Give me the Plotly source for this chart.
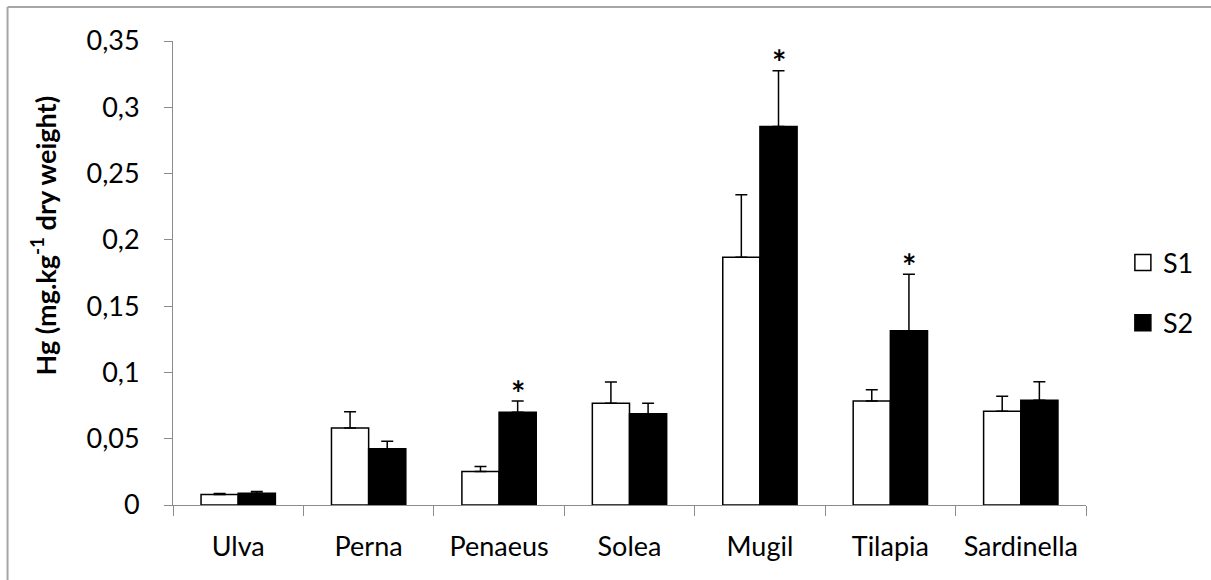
import plotly.graph_objects as go

categories = ["Ulva", "Perna", "Penaeus", "Solea", "Mugil", "Tilapia", "Sardinella"]
s1_values = [0.0080, 0.0580, 0.0252, 0.0767, 0.1868, 0.0784, 0.0707]
s1_err = [0.0006, 0.0123, 0.0038, 0.0160, 0.0472, 0.0086, 0.0113]
s2_values = [0.0088, 0.0425, 0.0699, 0.0689, 0.2855, 0.1314, 0.0790]
s2_err = [0.0014, 0.0055, 0.0085, 0.0078, 0.0420, 0.0426, 0.0140]
significant = ["Penaeus", "Mugil", "Tilapia"]
y_ticks = [0, 0.05, 0.1, 0.15, 0.2, 0.25, 0.3, 0.35]
y_title = "<b>Hg (mg.kg<sup>-1</sup> dry weight)</b>"

FONT = "Lato"

fig = go.Figure()
fig.add_trace(go.Bar(
    name="S1", x=categories, y=s1_values, showlegend=False,
    marker=dict(color="white", line=dict(color="black", width=1.5)),
    error_y=dict(type="data", array=s1_err, symmetric=False,
                 arrayminus=[0] * len(s1_err), color="black", thickness=1.5, width=6),
))
fig.add_trace(go.Bar(
    name="S2", x=categories, y=s2_values, showlegend=False,
    marker=dict(color="black", line=dict(color="black", width=1.5)),
    error_y=dict(type="data", array=s2_err, symmetric=False,
                 arrayminus=[0] * len(s2_err), color="black", thickness=1.5, width=6),
))
# legend entries
fig.add_trace(go.Scatter(name="S1", x=[None], y=[None], mode="markers",
                         marker=dict(symbol="square", size=16, color="white",
                                     line=dict(color="black", width=1.5)),
                         legendgroup="a"))
fig.add_trace(go.Scatter(name="S2", x=[None], y=[None], mode="markers",
                         marker=dict(symbol="square", size=16, color="black",
                                     line=dict(color="black", width=1.5)),
                         legendgroup="b"))

for cat in significant:
    i = categories.index(cat)
    fig.add_annotation(x=cat, y=s2_values[i] + s2_err[i], xshift=19, yshift=9,
                       text="<b>*</b>", showarrow=False, yanchor="middle",
                       font=dict(family=FONT, size=34, color="black"))

L, T, W, H = 173, 41, 916, 464
def px(x):
    return (x - L) / W
def py(y):
    return (T + H - y) / H

fig.add_annotation(xref="paper", yref="paper", x=px(43), y=py(236),
                   text=y_title, textangle=-90, showarrow=False,
                   xanchor="center", yanchor="middle",
                   font=dict(family=FONT, size=27, color="black"))

border = "#a6a6a6"
fig.add_shape(type="line", xref="paper", yref="paper",
              x0=px(7), x1=px(1215), y0=py(7), y1=py(7),
              line=dict(color=border, width=2), layer="below")
fig.add_shape(type="line", xref="paper", yref="paper",
              x0=px(7), x1=px(7), y0=py(7), y1=py(585),
              line=dict(color=border, width=2), layer="below")

fig.update_layout(
    width=1211, height=580,
    margin=dict(l=L, r=1211 - L - W, t=T, b=580 - T - H),
    paper_bgcolor="white", plot_bgcolor="white",
    barmode="group", bargap=0.43, bargroupgap=0,
    separators=", ",
    font=dict(family=FONT, size=27, color="black"),
    showlegend=True,
    legend=dict(x=px(1126), y=py(293), xanchor="left", yanchor="middle",
                font=dict(family=FONT, size=27), tracegroupgap=22,
                itemsizing="trace", itemwidth=30,
                bgcolor="rgba(0,0,0,0)"),
    xaxis=dict(showline=True, linecolor="#8c8c8c", linewidth=1,
               ticks="outside", ticklen=10, tickcolor="#8c8c8c",
               tickson="boundaries", showgrid=False, ticklabelstandoff=18,
               tickfont=dict(family=FONT, size=27)),
    yaxis=dict(range=[0, 0.35], tickvals=y_ticks, showline=True,
               linecolor="#8c8c8c", linewidth=1, ticks="outside", ticklen=8,
               tickcolor="#8c8c8c", showgrid=False, zeroline=False,
               ticklabelstandoff=19,
               tickfont=dict(family=FONT, size=27)),
)

fig.write_html("out.html", config={"displayModeBar": False},
               post_script="document.body.style.margin='0px';")
